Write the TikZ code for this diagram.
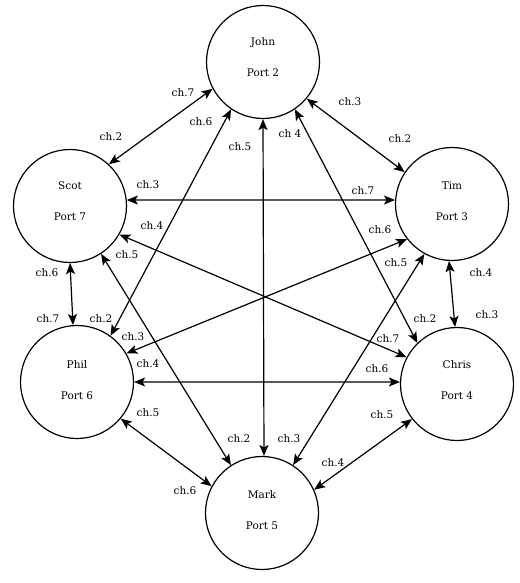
\documentclass[tikz,border=0pt]{standalone}
\usepackage{fontspec}
\setmainfont{DejaVu Serif}
\usetikzlibrary{arrows.meta}
\begin{document}
\begin{tikzpicture}[x=1pt,y=-1pt,
  person/.style={draw,circle,line width=1.2pt,minimum size=113pt,inner sep=0pt},
  nametext/.style={align=center,inner sep=0pt,font=\fontsize{10.5}{13}\selectfont},
  link/.style={line width=1.2pt,{Stealth[length=11pt,width=9pt,inset=2.5pt]}-{Stealth[length=11pt,width=9pt,inset=2.5pt]}},
  lab/.style={font=\fontsize{10.5}{13}\selectfont,inner sep=0pt}]
\useasboundingbox (0,0) rectangle (519,583);
\node[person] (john) at (263,62) {};
\node[person] (scot) at (70,206) {};
\node[person] (tim) at (452,204) {};
\node[person] (phil) at (77,382) {};
\node[person] (chris) at (457,384) {};
\node[person] (mark) at (262,513) {};
\node[nametext] (johnt) at ([yshift=5pt]john.center) {John\\[18pt]Port 2};
\node[nametext] (scott) at ([yshift=5pt]scot.center) {Scot\\[18pt]Port 7};
\node[nametext] (timt) at ([yshift=3pt]tim.center) {Tim\\[18pt]Port 3};
\node[nametext] (philt) at ([yshift=2pt]phil.center) {Phil\\[18pt]Port 6};
\node[nametext] (christ) at ([yshift=4pt]chris.center) {Chris\\[18pt]Port 4};
\node[nametext] (markt) at ([yshift=2.5pt]mark.center) {Mark\\[18pt]Port 5};
% connectors
\draw[link] (john.208) -- (scot.47);
\draw[link] (john.320) -- (tim.146);
\draw[link] (scot.6) -- (tim.176);
\draw[link] (john.236) -- (phil.54);
\draw[link] (john.270) -- (mark.88);
\draw[link] (john.304) -- (chris.134);
\draw[link] (scot.270) -- (phil.94);
\draw[link] (scot.303) -- (mark.123);
\draw[link] (scot.330) -- (chris.152);
\draw[link] (phil.30) -- (tim.218);
\draw[link] (mark.57) -- (tim.241);
\draw[link] (tim.267) -- (chris.92);
\draw[link] (phil.0) -- (chris.178);
\draw[link] (phil.320) -- (mark.152);
\draw[link] (chris.218) -- (mark.24);
% labels
\node[lab] (l1) at (183,93) {ch.7};
\node[lab] (l2) at (111,137) {ch.2};
\node[lab] (l3) at (350,102) {ch.3};
\node[lab] (l4) at (400,139) {ch.2};
\node[lab] (l5) at (148,185) {ch.3};
\node[lab] (l6) at (363,191) {ch.7};
\node[lab] (l7) at (201,122) {ch.6};
\node[lab] (l8) at (101,319) {ch.2};
\node[lab] (l9) at (240,147) {ch.5};
\node[lab] (l10) at (239,439) {ch.2};
\node[lab] (l11) at (290,134) {ch 4};
\node[lab] (l12) at (425,319) {ch.2};
\node[lab] (l13) at (47,273) {ch.6};
\node[lab] (l14) at (48,319) {ch.7};
\node[lab] (l15) at (127,255) {ch.5};
\node[lab] (l16) at (152,226) {ch.4};
\node[lab] (l17) at (388,339) {ch.7};
\node[lab] (l18) at (133,337) {ch.3};
\node[lab] (l19) at (380,230) {ch.6};
\node[lab] (l20) at (289,439) {ch.3};
\node[lab] (l21) at (396,263) {ch.5};
\node[lab] (l22) at (481,273) {ch.4};
\node[lab] (l23) at (487,315) {ch.3};
\node[lab] (l24) at (148,364) {ch.4};
\node[lab] (l25) at (377,369) {ch.6};
\node[lab] (l26) at (148,413) {ch.5};
\node[lab] (l27) at (185,491) {ch.6};
\node[lab] (l28) at (382,415) {ch.5};
\node[lab] (l29) at (333,463) {ch.4};
\end{tikzpicture}
\end{document}
